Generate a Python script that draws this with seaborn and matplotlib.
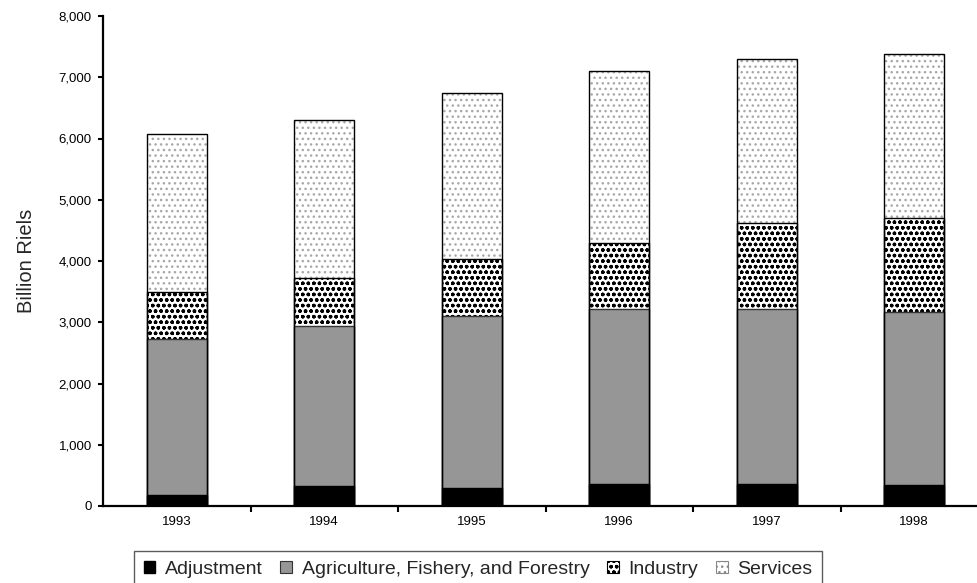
import numpy as np
import pandas as pd
import seaborn as sns
import matplotlib.pyplot as plt
from matplotlib.patches import Patch
from matplotlib.ticker import FuncFormatter

# values (billion riels)
years = ["1993", "1994", "1995", "1996", "1997", "1998"]
adjustment = [180, 330, 290, 360, 360, 340]
agriculture = [2540, 2610, 2810, 2860, 2860, 2830]
industry = [770, 790, 940, 1070, 1400, 1530]
services = [2580, 2580, 2700, 2810, 2670, 2680]

sns.set_theme(style="white")
plt.rcParams["font.family"] = ["Liberation Sans", "DejaVu Sans"]
plt.rcParams["hatch.linewidth"] = 1.0

df = pd.DataFrame({
    "year": years,
    "Adjustment": adjustment,
    "Agriculture": agriculture,
    "Industry": industry,
    "Services": services,
})
# cumulative tops; bars are drawn from the tallest down so each covers the one below
df["top_adj"] = df["Adjustment"]
df["top_agri"] = df["top_adj"] + df["Agriculture"]
df["top_ind"] = df["top_agri"] + df["Industry"]
df["top_serv"] = df["top_ind"] + df["Services"]

fig = plt.figure(figsize=(9.78, 5.83), dpi=100)
ax = fig.add_axes([103 / 978, 77 / 583, 885 / 978, 490 / 583])

bw = 0.41
common = dict(x="year", width=bw, saturation=1, errorbar=None, ax=ax)

# services: light grey dotted fill, outline added at the end
sns.barplot(data=df, y="top_serv", color="white", edgecolor="#a8a8a8",
            linewidth=0, hatch="...", **common)
# industry: dense black dots
sns.barplot(data=df, y="top_ind", color="white", edgecolor="black",
            linewidth=1.0, hatch="ooo...", **common)
# agriculture
sns.barplot(data=df, y="top_agri", color="#969696", edgecolor="#333333",
            linewidth=1.0, **common)
# adjustment
sns.barplot(data=df, y="top_adj", color="black", edgecolor="black",
            linewidth=1.0, **common)
# outline of the full stack
sns.barplot(data=df, y="top_serv", color="black", fill=False,
            linewidth=1.0, **common)

ax.set_xlim(-0.5, len(years) - 0.5)
ax.set_ylim(0, 8000)
ax.set_yticks(np.arange(0, 8001, 1000))
ax.yaxis.set_major_formatter(FuncFormatter(lambda v, p: f"{v:,.0f}"))
ax.set_xlabel("")
ax.set_ylabel("Billion Riels", fontsize=14.5, labelpad=16)

ax.set_xticks(np.arange(len(years) - 1) + 0.5, minor=True)
ax.tick_params(axis="y", left=True, direction="out", length=3.5, width=1.5,
               labelsize=9.5, pad=4.5, colors="black")
ax.tick_params(axis="x", which="major", bottom=False, length=0,
               labelsize=9.5, pad=7, colors="black")
ax.tick_params(axis="x", which="minor", bottom=True, direction="out",
               length=4, width=1.5, color="black")

sns.despine(ax=ax)
for side in ["left", "bottom"]:
    ax.spines[side].set_color("black")
    ax.spines[side].set_linewidth(1.6)

handles = [
    Patch(facecolor="black", edgecolor="black", label="Adjustment"),
    Patch(facecolor="#969696", edgecolor="#333333", linewidth=0.8,
          label="Agriculture, Fishery, and Forestry"),
    Patch(facecolor="white", edgecolor="black", linewidth=0.8, hatch="ooo...",
          label="Industry"),
    Patch(facecolor="white", edgecolor="#888888", linewidth=0.8, hatch="...",
          label="Services"),
]
leg = fig.legend(handles=handles, loc="upper left",
                 bbox_to_anchor=(134 / 978, 1 - 551 / 583), ncol=4,
                 frameon=True, fancybox=False, edgecolor="#333333",
                 fontsize=14, handlelength=0.6, handleheight=0.6,
                 handletextpad=0.5, columnspacing=0.9, borderpad=0.5,
                 borderaxespad=0)
leg.get_frame().set_linewidth(1.0)

fig.savefig("out.png", dpi=100)
